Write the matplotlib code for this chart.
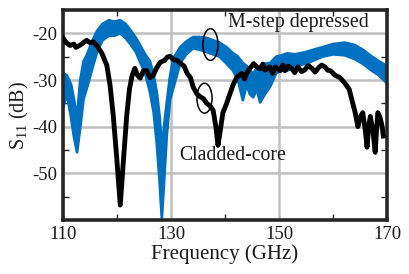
import numpy as np
import matplotlib
matplotlib.use('Agg')
import matplotlib.pyplot as plt
from matplotlib.patches import Ellipse

plt.rcParams['font.family'] = ['Liberation Serif', 'DejaVu Serif']
plt.rcParams['mathtext.fontset'] = 'custom'
plt.rcParams['mathtext.rm'] = 'Liberation Serif'
plt.rcParams['axes.unicode_minus'] = False

# M-step depressed (blue, noisy band: lower / upper envelope)
blue_freq = [110.0, 110.7, 111.5, 112.0, 112.6, 113.2, 113.8, 114.4, 115.3, 116.3,
             117.3, 118.5, 119.5, 120.6, 121.6, 122.6, 123.5, 124.3, 125.2, 126.1,
             126.8, 127.4, 127.9, 128.3, 128.7, 129.2, 129.8, 130.4, 131.7, 132.8,
             134.1, 135.3, 136.6, 137.8, 139.0, 140.3, 141.5, 142.4, 143.3, 144.0,
             144.6, 145.2, 145.9, 146.5, 147.4, 148.3, 149.5, 150.5, 151.5, 153.0,
             155.0, 157.0, 158.0, 160.0, 162.2, 164.0, 165.5, 167.2, 168.5, 170.0]
blue_lo = [-36.0, -33.0, -38.0, -42.0, -45.5, -40.0, -34.0, -31.8, -28.0, -24.0,
           -21.5, -20.5, -20.5, -20.0, -21.0, -22.5, -24.0, -26.2, -28.5, -32.6,
           -37.0, -44.0, -52.0, -59.5, -52.0, -42.0, -34.3, -31.8, -26.4, -24.5,
           -23.2, -23.5, -24.0, -24.5, -25.0, -26.5, -28.0, -30.0, -34.3, -31.0,
           -33.0, -33.7, -32.0, -34.8, -33.0, -31.5, -28.5, -28.0, -28.0, -27.0,
           -26.5, -25.5, -25.0, -24.5, -24.7, -25.5, -26.5, -28.0, -29.0, -30.7]
blue_hi = [-28.5, -29.0, -31.0, -34.0, -38.0, -30.0, -26.0, -24.7, -22.0, -19.5,
           -18.0, -17.2, -17.5, -17.2, -18.0, -19.5, -21.0, -22.6, -24.5, -26.0,
           -29.0, -33.0, -38.0, -45.0, -40.0, -35.0, -29.4, -25.4, -23.0, -21.8,
           -20.8, -20.8, -21.0, -21.5, -22.0, -23.0, -24.3, -25.0, -26.4, -27.0,
           -28.0, -28.6, -27.5, -27.6, -26.5, -26.4, -25.0, -24.7, -24.3, -24.5,
           -24.0, -23.3, -23.0, -22.3, -22.0, -22.5, -23.5, -25.0, -26.0, -27.0]

# Cladded-core (black)
black_freq = [110.0, 110.6, 111.3, 112.0, 112.4, 113.2, 114.0, 114.4, 115.0, 115.6,
              116.4, 117.2, 118.1, 118.7, 119.3, 119.9, 120.6, 121.2, 121.8, 122.3,
              122.8, 123.3, 123.8, 124.3, 124.9, 125.5, 126.1, 126.7, 127.3, 128.0,
              128.8, 129.3, 129.8, 130.4, 131.1, 131.7, 132.4, 133.0, 133.6, 134.1,
              134.8, 135.4, 136.0, 136.6, 137.2, 137.8, 138.3, 138.7, 139.1, 139.6,
              140.3, 140.9, 141.5, 142.2, 143.1, 143.6, 144.0, 144.6, 145.3, 145.9,
              146.5, 147.0, 147.4, 148.3, 148.8, 149.3, 150.2, 150.7, 151.1, 151.7,
              152.3, 152.9, 153.5, 154.2, 154.8, 155.4, 156.1, 156.7, 157.3, 157.9,
              158.5, 159.0, 159.5, 160.4, 161.3, 162.2, 163.0, 163.5, 164.1, 164.6,
              165.0, 165.5, 166.0, 166.3, 166.6, 166.9, 167.4, 167.8, 168.1, 168.3,
              168.7, 169.1, 169.3]
black_val = [-21.0, -22.0, -22.6, -22.3, -23.0, -22.5, -21.8, -21.5, -22.0, -21.8,
             -22.8, -24.3, -26.8, -31.0, -37.6, -46.0, -56.8, -47.0, -37.6, -32.0,
             -29.0, -27.5, -29.0, -29.6, -28.0, -28.0, -29.5, -29.0, -27.5, -26.2,
             -25.8, -25.1, -24.9, -25.6, -25.8, -26.4, -27.0, -28.6, -29.5, -31.5,
             -33.0, -33.6, -34.0, -35.0, -35.5, -36.5, -40.0, -44.0, -41.0, -37.0,
             -35.0, -33.0, -31.0, -29.4, -28.6, -29.8, -28.6, -27.5, -26.5, -27.2,
             -27.6, -26.6, -27.9, -27.2, -28.6, -27.2, -28.0, -26.8, -28.0, -27.0,
             -27.5, -28.4, -27.2, -28.2, -27.8, -26.9, -27.5, -28.3, -27.4, -26.8,
             -27.2, -27.9, -28.0, -29.0, -29.5, -30.7, -32.0, -34.3, -37.0, -40.0,
             -38.0, -37.0, -41.0, -44.4, -40.0, -37.8, -41.0, -45.5, -40.0, -37.0,
             -38.0, -40.0, -42.0]

# annotation ellipses: (centre f, centre dB, width GHz, height dB)
ell_blue = (137.3, -22.4, 2.8, 6.8)
ell_black = (136.2, -33.9, 2.8, 6.4)

blue = '#0070C0'
txt = '#1a1a1a'

fig = plt.figure(figsize=(4.1, 2.74), dpi=100)
ax = fig.add_axes([0.1537, 0.197, 0.7903, 0.7665])

ax.fill_between(blue_freq, blue_lo, blue_hi, color=blue, lw=0, zorder=2)
ax.plot(blue_freq, blue_lo, color=blue, lw=2, zorder=2)
ax.plot(blue_freq, blue_hi, color=blue, lw=2, zorder=2)
ax.plot(black_freq, black_val, color='black', lw=3.5, zorder=3, solid_joinstyle='round')

for e in (ell_blue, ell_black):
    ax.add_patch(Ellipse((e[0], e[1]), e[2], e[3], fill=False, ec='black', lw=1.1, zorder=4))

ax.text(140.5, -17.6, 'M-step depressed', fontsize=14.4, color=txt, ha='left', va='center')
ax.text(131.6, -46.2, 'Cladded-core', fontsize=14.2, color=txt, ha='left', va='center')

ax.set_xlim(110, 170)
ax.set_ylim(-60, -15)
ax.set_xticks([110, 130, 150, 170])
ax.set_xticks([120, 140, 160], minor=True)
ax.set_yticks([-20, -30, -40, -50])
ax.set_yticks([-25, -35, -45, -55], minor=True)
ax.grid(True, which='major', color='#c0c0c0', lw=1.8, zorder=0)
ax.set_axisbelow(True)

ax.tick_params(which='both', direction='in', top=True, right=True, color='#262626',
               labelsize=13.5, labelcolor=txt, pad=4)
ax.tick_params(which='major', length=0)
ax.tick_params(which='minor', length=4, width=1)
for s in ax.spines.values():
    s.set_linewidth(2.6)
    s.set_color('#262626')

ax.set_xlabel('Frequency (GHz)', fontsize=15, color=txt, labelpad=1)
ax.set_ylabel(r'S$_{\mathregular{11}}$ (dB)', fontsize=14.5, color=txt, labelpad=1)

fig.savefig('out.png', dpi=100)
